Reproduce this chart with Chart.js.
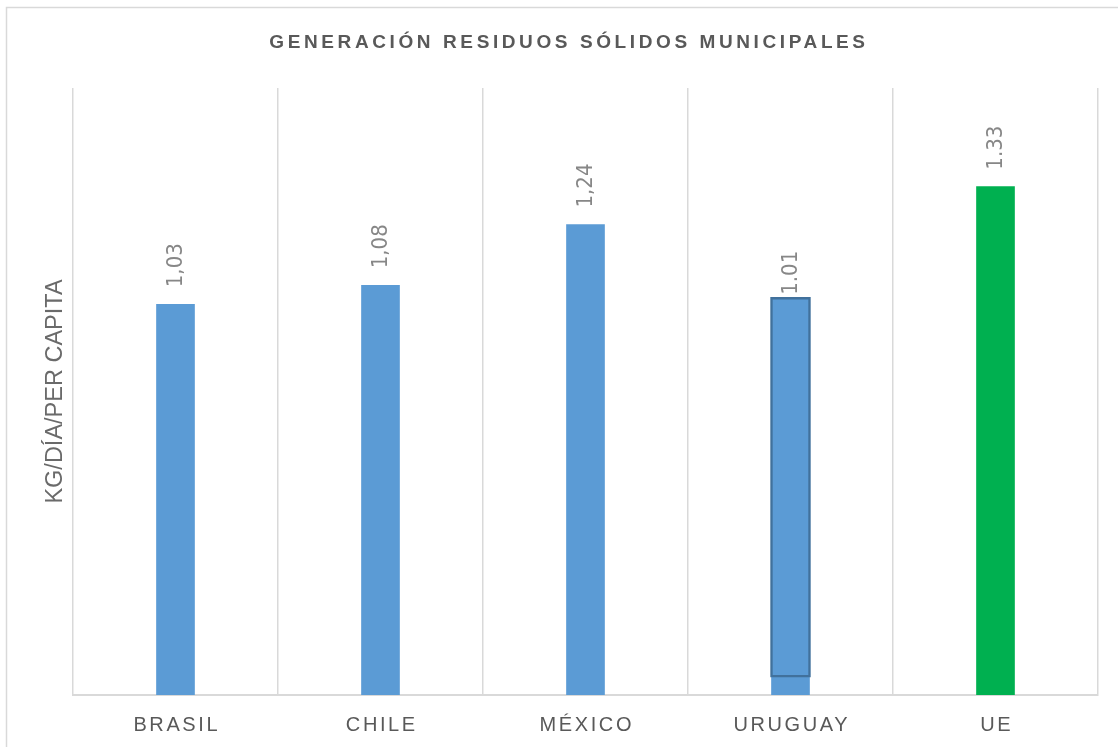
<!DOCTYPE html>
<html>
<head>
<meta charset="utf-8">
<script src="https://cdn.jsdelivr.net/npm/chart.js@4/dist/chart.umd.min.js"></script>
<style>
  html, body { margin: 0; padding: 0; background: #fff; overflow: hidden; }
  #wrap { position: absolute; left: 0; top: 0; width: 1118px; height: 747px; }
</style>
</head>
<body>
<div id="wrap"><canvas id="c" width="1118" height="747"></canvas></div>
<script>
// ---- data ----
const categories = ['BRASIL', 'CHILE', 'MÉXICO', 'URUGUAY', 'UE'];
const barValues = [1.03, 1.08, 1.24, 1.01, 1.34];
const valueLabels = ['1,03', '1,08', '1,24', '1.01', '1.33'];
const overlayRange = [null, null, null, [0.047, 1.048], null];
const chartTitle = 'GENERACIÓN RESIDUOS SÓLIDOS MUNICIPALES';
const yAxisTitle = 'KG/DÍA/PER CAPITA';
const yMax = 1.6;

const blue = '#5B9BD5';
const green = '#00B050';
const barColors = categories.map((c, i) => i === categories.length - 1 ? green : blue);

const decor = {
  id: 'decor',
  beforeDraw(chart) {
    const ctx = chart.ctx;
    ctx.save();
    ctx.fillStyle = '#fff';
    ctx.fillRect(0, 0, chart.width, chart.height);
    ctx.strokeStyle = '#d9d9d9';
    ctx.lineWidth = 1.5;
    ctx.strokeRect(6.5, 7.5, 1300, 900);
    ctx.restore();
  },
  beforeDatasetsDraw(chart) {
    // value labels (rotated), drawn under the overlay shape
    const ctx = chart.ctx;
    const meta = chart.getDatasetMeta(0);
    ctx.save();
    ctx.fillStyle = '#878787';
    ctx.font = '22px "Liberation Sans Narrow", "DejaVu Sans Condensed", "Liberation Sans", sans-serif';
    ctx.textAlign = 'left';
    ctx.textBaseline = 'middle';
    meta.data.forEach((bar, i) => {
      ctx.save();
      ctx.translate(bar.x, bar.y - 17);
      ctx.rotate(-Math.PI / 2);
      ctx.fillText(valueLabels[i], 0, 1);
      ctx.restore();
    });
    ctx.restore();
  },
  afterDraw(chart) {
    const ctx = chart.ctx;
    const area = chart.chartArea;
    const xs = chart.scales.x;
    ctx.save();
    // title
    ctx.fillStyle = '#595959';
    ctx.font = 'bold 19px "Liberation Sans", Arial, sans-serif';
    ctx.letterSpacing = '3.6px';
    ctx.textAlign = 'center';
    ctx.textBaseline = 'middle';
    ctx.fillText(chartTitle, 569, 43);
    // category labels
    ctx.font = '20px "Liberation Sans", Arial, sans-serif';
    ctx.letterSpacing = '2.6px';
    ctx.fillStyle = '#595959';
    categories.forEach((c, i) => {
      ctx.fillText(c, xs.getPixelForValue(i) + 1.3, area.bottom + 30);
    });
    // y axis title
    ctx.letterSpacing = '0px';
    ctx.font = '23.5px "Liberation Sans", Arial, sans-serif';
    ctx.fillStyle = '#6a6a6a';
    ctx.translate(56, (area.top + area.bottom) / 2);
    ctx.rotate(-Math.PI / 2);
    ctx.fillText(yAxisTitle, 0, 0);
    ctx.restore();
  }
};

new Chart(document.getElementById('c'), {
  type: 'bar',
  data: {
    labels: categories,
    datasets: [
      {
        data: barValues,
        backgroundColor: barColors,
        barThickness: 38,
        grouped: false,
        order: 2
      },
      {
        data: overlayRange,
        backgroundColor: blue,
        borderColor: '#41719C',
        borderWidth: 2.5,
        borderSkipped: false,
        barThickness: 40,
        grouped: false,
        order: 1
      }
    ]
  },
  options: {
    responsive: false,
    animation: false,
    devicePixelRatio: 1,
    layout: { padding: { left: 73, right: 20, top: 88, bottom: 52 } },
    plugins: { legend: { display: false }, title: { display: false }, tooltip: { enabled: false } },
    scales: {
      x: {
        offset: true,
        grid: { color: '#d9d9d9', lineWidth: 1.5, offset: true, drawTicks: false },
        border: { color: '#d9d9d9', width: 2 },
        ticks: { display: false }
      },
      y: {
        display: false,
        min: 0,
        max: yMax
      }
    }
  },
  plugins: [decor]
});
</script>
</body>
</html>
